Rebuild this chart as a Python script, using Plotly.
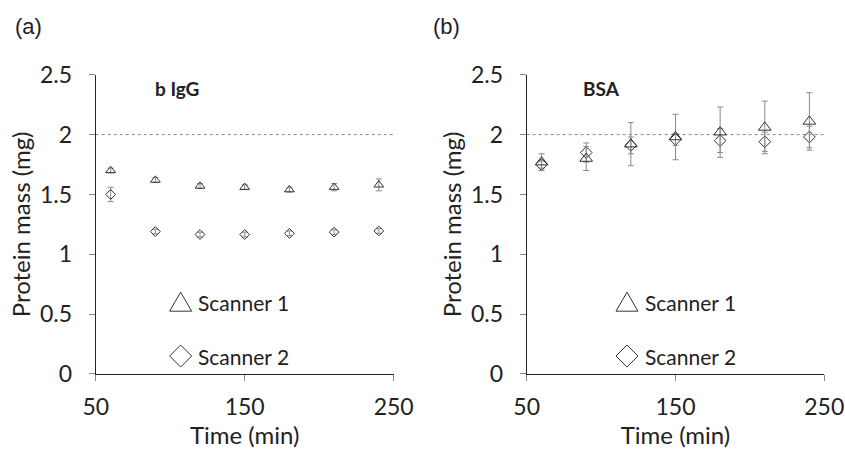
import plotly.graph_objects as go

time_min = [60, 90, 120, 150, 180, 210, 240]

# Panel (a) b IgG
igg_s1 = [1.70, 1.62, 1.57, 1.56, 1.54, 1.56, 1.58]
igg_s1_err = [0.02, 0.02, 0.02, 0.02, 0.02, 0.03, 0.05]
igg_s2 = [1.50, 1.19, 1.165, 1.165, 1.175, 1.185, 1.195]
igg_s2_err = [0.06, 0.02, 0.02, 0.02, 0.02, 0.02, 0.02]

# Panel (b) BSA
bsa_s1 = [1.77, 1.80, 1.92, 1.98, 2.02, 2.06, 2.11]
bsa_s1_err = [0.07, 0.10, 0.18, 0.19, 0.21, 0.22, 0.24]
bsa_s2 = [1.75, 1.85, 1.91, 1.96, 1.95, 1.94, 1.98]
bsa_s2_err = [0.03, 0.08, 0.07, 0.05, 0.10, 0.08, 0.09]

reference_mass = 2.0
panel_titles = ["b IgG", "BSA"]
panel_letters = ["(a)", "(b)"]
series_names = ["Scanner 1", "Scanner 2"]
x_ticks = [50, 150, 250]
y_ticks = [0, 0.5, 1, 1.5, 2, 2.5]
y_ticktext = ["0", "0.5", "1", "1.5", "2", "2.5"]

FONT = "Lato, Carlito, Calibri, sans-serif"
MK = "#333333"
ERR = "#8a8a8a"
TXT = "#222222"

fig = go.Figure()

panels = [
    (igg_s1, igg_s1_err, igg_s2, igg_s2_err, "x", "y", 8.5, 7.5),
    (bsa_s1, bsa_s1_err, bsa_s2, bsa_s2_err, "x2", "y2", 11, 9),
]
for s1, e1, s2, e2, xa, ya, tsz, dsz in panels:
    fig.add_trace(go.Scatter(
        x=time_min, y=s2, mode="markers", xaxis=xa, yaxis=ya, showlegend=False,
        error_y=dict(type="data", array=e2, color=ERR, thickness=1, width=3),
        marker=dict(symbol="diamond-open", size=dsz, color=MK, line=dict(width=1, color=MK)),
        name=series_names[1]))
    fig.add_trace(go.Scatter(
        x=time_min, y=s1, mode="markers", xaxis=xa, yaxis=ya, showlegend=False,
        error_y=dict(type="data", array=e1, color=ERR, thickness=1, width=3),
        marker=dict(symbol="triangle-up-open", size=tsz, color=MK, line=dict(width=1, color=MK)),
        name=series_names[0]))

axis_common = dict(
    showgrid=False, zeroline=False, showline=True, linecolor=TXT, linewidth=1.2,
    ticks="outside", ticklen=6, tickcolor="#888888", tickwidth=1, automargin=False,
    tickfont=dict(family=FONT, size=23, color=TXT),
)
title_font = dict(family=FONT, size=24, color=TXT)

fig.update_layout(
    width=845, height=453,
    margin=dict(l=0, r=0, t=0, b=0, autoexpand=False),
    paper_bgcolor="white", plot_bgcolor="white",
    xaxis=dict(domain=[0.1133, 0.4659], range=[50, 250], tickvals=x_ticks, anchor="y",
               title=dict(text="Time (min)", font=title_font, standoff=4),
               ticklabelstandoff=6, **axis_common),
    yaxis=dict(domain=[0.1744, 0.835], range=[0, 2.5], tickvals=y_ticks, ticktext=y_ticktext, anchor="x",
               title=dict(text="Protein mass (mg)", font=title_font, standoff=2),
               ticklabelstandoff=12, **axis_common),
    xaxis2=dict(domain=[0.6233, 0.9755], range=[50, 250], tickvals=x_ticks, anchor="y2",
                title=dict(text="Time (min)", font=title_font, standoff=4),
                ticklabelstandoff=6, **axis_common),
    yaxis2=dict(domain=[0.1744, 0.835], range=[0, 2.5], tickvals=y_ticks, ticktext=y_ticktext, anchor="x2",
                title=dict(text="Protein mass (mg)", font=title_font, standoff=2),
                ticklabelstandoff=12, **axis_common),
)

# dotted reference line at 2 mg
for xr, yr in [("x domain", "y"), ("x2 domain", "y2")]:
    fig.add_shape(type="line", xref=xr, yref=yr, x0=0, x1=1, y0=reference_mass, y1=reference_mass,
                  line=dict(color="#888888", width=1, dash="dot"), layer="below")

# panel letters
for letter, px in [(panel_letters[0], 29), (panel_letters[1], 447)]:
    fig.add_annotation(text=letter, xref="paper", yref="paper", x=px / 845, y=1 - 27 / 453,
                       xanchor="center", yanchor="middle", showarrow=False,
                       font=dict(family="Liberation Sans, Arial", size=22, color=TXT))

# panel titles
fig.add_annotation(text="<b>%s</b>" % panel_titles[0], xref="x domain", yref="y domain", x=0.273, y=0.955,
                   xanchor="center", yanchor="middle", showarrow=False,
                   font=dict(family=FONT, size=19, color=TXT))
fig.add_annotation(text="<b>%s</b>" % panel_titles[1], xref="x2 domain", yref="y2 domain", x=0.251, y=0.955,
                   xanchor="center", yanchor="middle", showarrow=False,
                   font=dict(family=FONT, size=19, color=TXT))

# manual legend keys
tri = "M -11,-9 L 11,-9 L 0,10 Z"
dia = "M -11,0 L 0,11 L 11,0 L 0,-11 Z"
legend_pos = [("x domain", "y domain", 0.285), ("x2 domain", "y2 domain", 0.337)]
for xr, yr, kx in legend_pos:
    for path, ky, name in [(tri, 0.24, series_names[0]), (dia, 0.06, series_names[1])]:
        fig.add_shape(type="path", xref=xr, yref=yr, xsizemode="pixel", ysizemode="pixel",
                      xanchor=kx, yanchor=ky, path=path, line=dict(color="#333333", width=1))
        fig.add_annotation(text=name, xref=xr, yref=yr, x=kx + 0.053, y=ky, xanchor="left",
                           yanchor="middle", showarrow=False,
                           font=dict(family=FONT, size=21, color=TXT))

fig.write_html("out.html")
